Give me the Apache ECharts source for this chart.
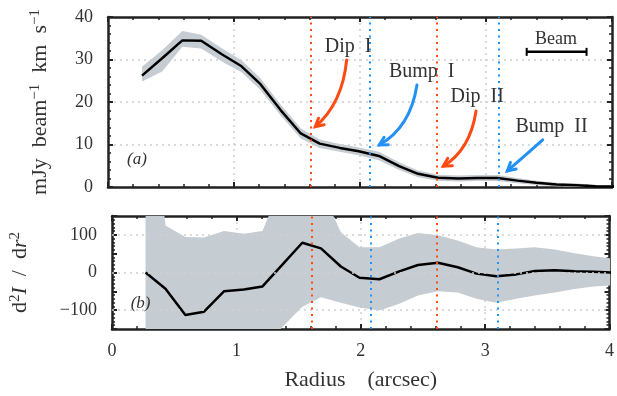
<!DOCTYPE html>
<html>
<head>
<meta charset="utf-8">
<script src="https://cdn.jsdelivr.net/npm/echarts@6/dist/echarts.min.js"></script>
<style>html,body{margin:0;padding:0;background:#fff;}#c{width:617px;height:396px;}</style>
</head>
<body>
<div id="c"></div>
<script>
// ---- data ----
const radius = [0.27,0.43,0.59,0.74,0.90,1.06,1.21,1.37,1.53,1.68,1.84,1.99,2.15,2.31,2.46,2.62,2.78,2.93,3.09,3.25,3.40,3.56,3.72,3.87,4.03];
const intensity = [26.2,30.3,34.5,34.4,31.3,28.4,24.2,18.1,12.6,10.2,9.2,8.4,7.3,4.9,3.1,2.2,2.0,2.1,2.1,1.5,1.0,0.6,0.4,0.2,0.1];
const intensityLow = [24.8,27.2,33.0,32.6,29.6,27.0,22.8,16.8,11.4,9.2,8.3,7.5,6.3,4.0,2.3,1.5,1.3,1.4,1.4,0.9,0.5,0.2,0.0,-0.1,-0.2];
const intensityHigh = [28.3,32.2,36.7,35.8,32.7,29.8,25.6,19.4,13.8,11.2,10.1,9.3,8.3,5.8,3.9,2.9,2.7,2.8,2.8,2.1,1.5,1.0,0.8,0.5,0.4];
const curvature = [0,-43,-113,-104,-50,-45,-37,21,79,64,16,-14,-18,3,20,26,14,-3,-10,-5,4,6,3,2,0];
const curvatureLow = [-600,-400,-350,-300,-280,-260,-200,-145,-91,-66,-80,-93,-101,-83,-61,-50,-53,-70,-80,-70,-61,-53,-44,-37,-34];
const curvatureHigh = [600,125,94,93,110,103,110,240,250,222,107,67,67,90,105,99,85,67,61,64,67,61,51,43,37];
const xTicks = [0,1,2,3,4];
const topTicks = [0,10,20,30,40];
const bottomTicks = [-100,0,100];
const features = [
  {name:'Dip I', r:1.61, kind:'dip'},
  {name:'Bump I', r:2.08, kind:'bump'},
  {name:'Dip II', r:2.61, kind:'dip'},
  {name:'Bump II', r:3.10, kind:'bump'}
];
const beamSize = 0.475;

// ---- annotation layout (data coordinates of top panel) ----
const annotations = [
  {text:'Dip  I',   kind:'dip',  label:[1.905,33.0], start:[1.894,29.9], ctrl:[1.860,19.6], end:[1.645,14.2]},
  {text:'Bump  I',  kind:'bump', label:[2.49,27.1],  start:[2.452,24.0], ctrl:[2.400,14.0], end:[2.153,9.9]},
  {text:'Dip  II',  kind:'dip',  label:[2.93,21.2],  start:[2.921,17.9], ctrl:[2.875,8.8],  end:[2.661,4.9]},
  {text:'Bump  II', kind:'bump', label:[3.52,14.1],  start:[3.450,11.1], ctrl:[3.333,8.0],  end:[3.169,3.8]}
];
const beamPos = {x0:3.323, y:31.8, label:[3.556,34.8]};

const colors = {dip:'#ff4a12', bump:'#2390f5', band:'#c5ccd2', frame:'#222', text:'#333', grid:'#cfcfcf'};
const FONT = 'Liberation Serif';

const pair = (xs, ys) => xs.map((x,i)=>[x, ys[i]]);

function xAxisCfg(grid, pos, withLabels, split){
  return {
    type:'value', gridIndex:grid, position:pos, min:0, max:4, interval:1,
    axisLine:{show:true, onZero:false, lineStyle:{color:colors.frame, width:2.5}},
    axisTick:{show:true, inside:true, length:5, lineStyle:{color:colors.frame, width:2}},
    minorTick:{show:true, splitNumber:5, length:3, lineStyle:{color:colors.frame, width:1.5}},
    axisLabel:{show:withLabels, margin:13, color:colors.text, fontFamily:FONT, fontSize:18,
      formatter:v=> xTicks.includes(v)? String(v):''},
    splitLine:{show:split, showMinLine:false, showMaxLine:false, lineStyle:{color:colors.grid, type:[2,4], width:1.5}},
    name: withLabels ? 'Radius    (arcsec)' : '', nameLocation:'middle', nameGap:40,
    nameTextStyle:{color:colors.text, fontFamily:FONT, fontSize:22}
  };
}
function yAxisCfg(grid, pos, min, max, interval, labels, split, name, nameGap, rich){
  return {
    type:'value', gridIndex:grid, position:pos, min:min, max:max, interval:interval,
    axisLine:{show:true, onZero:false, lineStyle:{color:colors.frame, width:2.5}},
    axisTick:{show:true, inside:true, length:5, lineStyle:{color:colors.frame, width:2}},
    minorTick:{show:true, splitNumber:5, length:3, lineStyle:{color:colors.frame, width:1.5}},
    axisLabel:{show:!!labels, margin:15, color:colors.text, fontFamily:FONT, fontSize:18,
      formatter:v=> (labels && labels.includes(v)) ? String(v).replace('-', '\u2212') : ''},
    splitLine:{show:split, showMinLine:false, showMaxLine:false, lineStyle:{color:colors.grid, type:[2,4], width:1.5}},
    name:name||'', nameLocation:'middle', nameGap:nameGap||0, nameRotate:90,
    nameTextStyle:{color:colors.text, fontFamily:FONT, fontSize:21, rich:rich||{}}
  };
}

const supStyle = {fontFamily:FONT, fontSize:15, color:colors.text, verticalAlign:'top', lineHeight:24};
const baseStyle = {fontFamily:FONT, fontSize:22, color:colors.text, lineHeight:24};
const itStyle = {fontFamily:FONT, fontSize:22, color:colors.text, fontStyle:'italic', lineHeight:24};

const featureLines = features.map(f=>({xAxis:f.r, lineStyle:{color:colors[f.kind], type:[2,4.5], width:2}}));

// band drawn as one polygon through the axes' scales
function bandSeries(xi, yi, lo, hi){
  return {
    type:'custom', xAxisIndex:xi, yAxisIndex:yi, clip:true, silent:true, z:1,
    data: radius.map((x,i)=>[x, lo[i], hi[i]]),
    encode:{x:0, y:[1,2]},
    renderItem:function(params, api){
      if (params.dataIndex !== 0) return null;
      const pts = [];
      for (let i=0;i<radius.length;i++) pts.push(api.coord([radius[i], hi[i]]));
      for (let i=radius.length-1;i>=0;i--) pts.push(api.coord([radius[i], lo[i]]));
      return {type:'polygon', shape:{points:pts}, style:{fill:colors.band, stroke:null}};
    }
  };
}

const option = {
  animation:false,
  backgroundColor:'#fff',
  grid:[
    {left:108, right:5, top:17, height:170},
    {left:108, right:5, top:216, height:113}
  ],
  xAxis:[
    xAxisCfg(0,'bottom',false,true),
    xAxisCfg(0,'top',false,false),
    xAxisCfg(1,'bottom',true,true),
    xAxisCfg(1,'top',false,false)
  ],
  yAxis:[
    yAxisCfg(0,'left',0,40,10,topTicks,true,'{b|mJy  beam}{s|\u22121}{b|  km  s}{s|\u22121}',56,{b:baseStyle,s:supStyle}),
    yAxisCfg(0,'right',0,40,10,null,false),
    yAxisCfg(1,'left',-150,150,50,bottomTicks,false,'{b|d}{s|2}{i|I}{b|  /  d}{i|r}{s|2}',80,{b:baseStyle,s:supStyle,i:itStyle}),
    yAxisCfg(1,'right',-150,150,50,null,false)
  ],
  series:[
    bandSeries(0,0,intensityLow,intensityHigh),
    {type:'line', xAxisIndex:0, yAxisIndex:0, data:[], symbol:'none', z:2,
      markLine:{silent:true, symbol:'none', label:{show:false}, data:featureLines}},
    {type:'line', xAxisIndex:0, yAxisIndex:0, data:pair(radius,intensity), symbol:'none',
      lineStyle:{color:'#000', width:2.5}, z:3},

    {type:'line', xAxisIndex:2, yAxisIndex:2, data:[], symbol:'none', z:0,
      markLine:{silent:true, symbol:'none', label:{show:false},
        data:bottomTicks.map(v=>({yAxis:v, lineStyle:{color:colors.grid, type:[2,4], width:1.5}}))}},
    bandSeries(2,2,curvatureLow,curvatureHigh),
    {type:'line', xAxisIndex:2, yAxisIndex:2, data:[], symbol:'none', z:2,
      markLine:{silent:true, symbol:'none', label:{show:false}, data:featureLines}},
    {type:'line', xAxisIndex:2, yAxisIndex:2, data:pair(radius,curvature), symbol:'none',
      lineStyle:{color:'#000', width:2.5}, z:3}
  ]
};

const chart = echarts.init(document.getElementById('c'), null, {renderer:'canvas'});
chart.setOption(option);

function P(pt, g){ return chart.convertToPixel({xAxisIndex: g===1?2:0, yAxisIndex: g===1?2:0}, pt); }

const graphics = [];
const annFont = {fontFamily:FONT, fontSize:20, fill:colors.text};
annotations.forEach(a=>{
  const s=P(a.start), c=P(a.ctrl), e=P(a.end), l=P(a.label);
  const col = colors[a.kind];
  graphics.push({type:'bezierCurve', shape:{x1:s[0],y1:s[1],x2:e[0],y2:e[1],cpx1:c[0],cpy1:c[1]},
    style:{stroke:col, lineWidth:3, fill:null, lineCap:'round'}, z:10});
  const dx=e[0]-c[0], dy=e[1]-c[1], len=Math.hypot(dx,dy), ux=dx/len, uy=dy/len;
  const L=9, ang=0.5;
  const a1=[e[0]-L*(ux*Math.cos(ang)-uy*Math.sin(ang)), e[1]-L*(uy*Math.cos(ang)+ux*Math.sin(ang))];
  const a2=[e[0]-L*(ux*Math.cos(-ang)-uy*Math.sin(-ang)), e[1]-L*(uy*Math.cos(-ang)+ux*Math.sin(-ang))];
  graphics.push({type:'polyline', shape:{points:[a1,e,a2]}, style:{stroke:col, lineWidth:3, fill:null, lineJoin:'miter', lineCap:'round'}, z:10});
  graphics.push({type:'text', x:l[0], y:l[1], style:Object.assign({text:a.text, align:'center', verticalAlign:'middle'}, annFont), z:10});
});
// beam
const b0=P([beamPos.x0, beamPos.y]), b1=P([beamPos.x0+beamSize, beamPos.y]), bl=P(beamPos.label);
graphics.push({type:'line', shape:{x1:b0[0],y1:b0[1],x2:b1[0],y2:b1[1]}, style:{stroke:'#000', lineWidth:2.5}, z:10});
graphics.push({type:'line', shape:{x1:b0[0],y1:b0[1]-4,x2:b0[0],y2:b0[1]+4}, style:{stroke:'#000', lineWidth:2}, z:10});
graphics.push({type:'line', shape:{x1:b1[0],y1:b1[1]-4,x2:b1[0],y2:b1[1]+4}, style:{stroke:'#000', lineWidth:2}, z:10});
graphics.push({type:'text', x:bl[0], y:bl[1], style:Object.assign({text:'Beam', align:'center', verticalAlign:'middle'}, annFont, {fontSize:18}), z:10});
// panel tags
const ta=P([0.23,6.4]), tb=P([0.23,-83],1);
graphics.push({type:'text', x:ta[0], y:ta[1], style:{text:'(a)', fontFamily:FONT, fontSize:17, fontStyle:'italic', fill:colors.text, align:'center', verticalAlign:'middle'}, z:10});
graphics.push({type:'text', x:tb[0], y:tb[1], style:{text:'(b)', fontFamily:FONT, fontSize:17, fontStyle:'italic', fill:colors.text, align:'center', verticalAlign:'middle'}, z:10});

chart.setOption({graphic:{elements:graphics}});
</script>
</body>
</html>
